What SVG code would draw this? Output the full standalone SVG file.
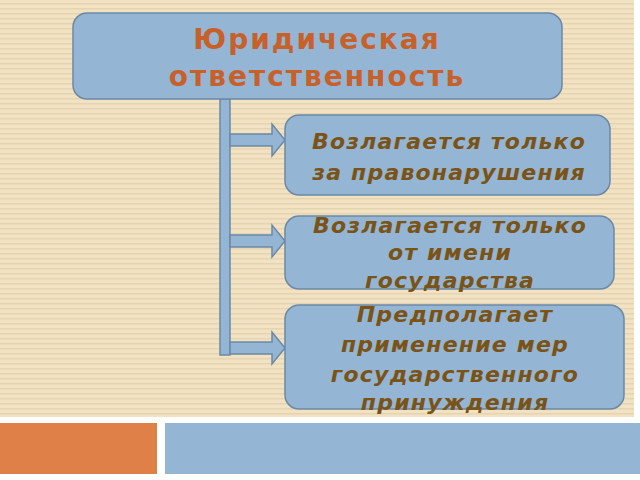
<svg xmlns="http://www.w3.org/2000/svg" width="640" height="480" viewBox="0 0 640 480">
<defs>
<pattern id="st" width="6" height="5" patternUnits="userSpaceOnUse"><rect width="6" height="5" fill="#f1e2c3"/><rect y="3" width="6" height="1.5" fill="#e6d4b0"/></pattern>
<style>
.box{fill:#94b5d3;stroke:#6b89a6;stroke-width:1.5}
.t{font-family:"DejaVu Sans",sans-serif;font-weight:bold;font-style:italic;font-size:22px;letter-spacing:1.2px;fill:#7a5317;text-anchor:middle}
.h{font-family:"DejaVu Sans",sans-serif;font-weight:bold;font-size:28px;letter-spacing:2px;fill:#c8602a;text-anchor:middle}
</style>
</defs>
<rect width="640" height="480" fill="#fff"/>
<rect x="0" y="0" width="634" height="417" fill="url(#st)"/>
<rect x="0" y="423" width="157" height="51" fill="#de8047"/>
<rect x="165" y="423" width="475" height="51" fill="#94b5d3"/>
<g id="connectors" fill="#94b5d3" stroke="#6b89a6" stroke-width="1.5">
<rect x="220" y="99" width="10" height="256"/>
<path d="M230 134h42v-10l13 16-13 16v-10h-42z"/>
<path d="M230 235h42v-10l13 16-13 16v-10h-42z"/>
<path d="M230 342h42v-10l13 16-13 16v-10h-42z"/>
</g>
<g id="n0"><rect class="box" x="73" y="13" width="489" height="86" rx="14"/>
<text class="h" x="317" y="49">Юридическая</text><text class="h" x="317" y="86">ответственность</text></g>
<g id="n1"><rect class="box" x="285" y="115" width="325" height="80" rx="14"/>
<text class="t" x="449" y="149">Возлагается только</text><text class="t" x="449" y="180">за правонарушения</text></g>
<g id="n2"><rect class="box" x="285" y="216" width="329" height="73" rx="14"/>
<text class="t" x="450" y="233">Возлагается только</text><text class="t" x="450" y="260">от имени</text><text class="t" x="450" y="288">государства</text></g>
<g id="n3"><rect class="box" x="285" y="305" width="339" height="104" rx="14"/>
<text class="t" x="455" y="322">Предполагает</text><text class="t" x="455" y="352">применение мер</text><text class="t" x="455" y="382">государственного</text><text class="t" x="455" y="410">принуждения</text></g>
</svg>
